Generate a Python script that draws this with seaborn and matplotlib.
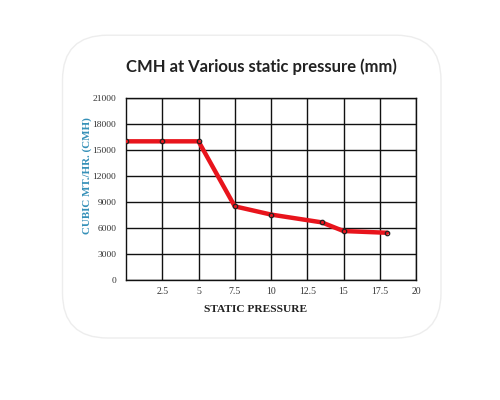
import seaborn as sns
import matplotlib.pyplot as plt
from matplotlib.patches import FancyBboxPatch

pressure = [0, 2.5, 5, 7.5, 10, 13.5, 15, 18]
cmh = [16000, 16000, 16000, 8500, 7550, 6650, 5650, 5450]
x_ticks = [2.5, 5, 7.5, 10, 12.5, 15, 17.5, 20]
x_tick_labels = ["2.5", "5", "7.5", "10", "12.5", "15", "17.5", "20"]
y_ticks = [0, 3000, 6000, 9000, 12000, 15000, 18000, 21000]

sns.set_style("white")

fig = plt.figure(figsize=(5, 4), dpi=100)
fig.patch.set_facecolor("white")

# rounded card behind the chart
card = FancyBboxPatch((0.125, 0.155), 0.757, 0.757,
                      boxstyle="round,pad=0,rounding_size=0.09",
                      transform=fig.transFigure, facecolor="white",
                      edgecolor="#ededed", linewidth=1.0, mutation_aspect=1.25,
                      zorder=-5)
fig.patches.append(card)

ax = fig.add_axes([0.252, 0.30, 0.58, 0.455])
ax.set_zorder(2)
sns.lineplot(x=pressure, y=cmh, ax=ax, color="#e8141c", linewidth=3.2,
             marker="o", markersize=3.2, markerfacecolor="none",
             markeredgecolor="#222222", markeredgewidth=0.9, zorder=3)

ax.set_xlim(0, 20)
ax.set_ylim(0, 21000)
ax.set_xticks(x_ticks)
ax.set_xticklabels(x_tick_labels)
ax.set_yticks(y_ticks)
ax.grid(True, color="#111111", linewidth=1.0)
ax.set_axisbelow(True)
for s in ax.spines.values():
    s.set_visible(True)
    s.set_color("#111111")
    s.set_linewidth(1.0)
ax.tick_params(axis="x", length=0, pad=5, labelsize=7)
ax.tick_params(axis="y", length=0, pad=7, labelsize=6.8)
for lab in ax.get_xticklabels() + ax.get_yticklabels():
    lab.set_fontfamily("Liberation Serif")
    lab.set_color("#333333")
ax.set_xlabel("")
ax.set_ylabel("")

fig.text(0.512, 0.225, "STATIC PRESSURE", ha="center", va="center",
         fontfamily="Liberation Serif", fontweight="bold", fontsize=8.2,
         color="#222222")
fig.text(0.174, 0.56, "CUBIC MT./HR. (CMH)", ha="center", va="center",
         rotation=90, fontfamily="Liberation Serif", fontweight="bold",
         fontsize=7.9, color="#3590b8")

fig.text(0.522, 0.832, "CMH at Various static pressure (mm)", ha="center",
         va="center", fontfamily="Lato", fontweight="bold",
         fontsize=12, color="#222222")

fig.savefig("out.png", dpi=100)
